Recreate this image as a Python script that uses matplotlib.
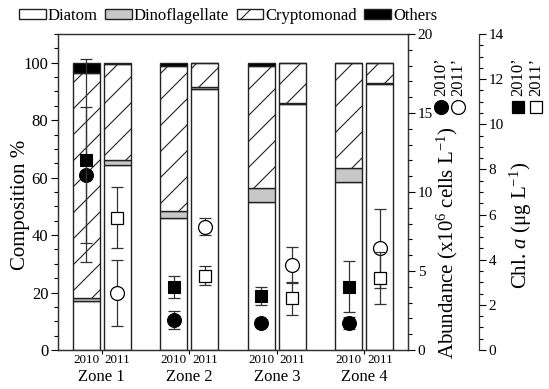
import matplotlib
matplotlib.use("Agg")
import matplotlib.pyplot as plt
import matplotlib.transforms as mtransforms
from matplotlib.patches import Rectangle
from matplotlib.lines import Line2D
from matplotlib.ticker import MultipleLocator
import numpy as np

DPI = 78
def P(v):
    return v * 100.0 / DPI

plt.rcParams['font.family'] = ['Liberation Serif', 'DejaVu Serif']
plt.rcParams['mathtext.fontset'] = 'custom'
plt.rcParams['mathtext.rm'] = 'Liberation Serif'
plt.rcParams['mathtext.it'] = 'Liberation Serif:italic'
plt.rcParams['hatch.linewidth'] = P(0.8)

# ---------------- data ----------------
zones = ["Zone 1", "Zone 2", "Zone 3", "Zone 4"]
years = ["2010", "2011"]
groups = ["Diatom", "Dinoflagellate", "Cryptomonad", "Others"]

diatom_2010 = [17.0, 46.0, 51.5, 58.5]
dino_2010 = [1.0, 2.5, 5.0, 5.0]
crypto_2010 = [78.5, 50.5, 42.5, 36.5]
others_2010 = [3.5, 1.0, 1.0, 0.0]

diatom_2011 = [64.5, 90.8, 85.5, 92.5]
dino_2011 = [1.5, 0.7, 0.6, 0.3]
crypto_2011 = [33.5, 8.5, 13.9, 7.2]
others_2011 = [0.5, 0.0, 0.0, 0.0]

abund_2010 = [11.1, 1.9, 1.7, 1.7]
abund_2010_err = [4.3, 0.6, 0.2, 0.4]
abund_2011 = [3.6, 7.8, 5.4, 6.45]
abund_2011_err = [2.1, 0.55, 1.15, 2.5]

chl_2010 = [8.4, 2.8, 2.4, 2.8]
chl_2010_err = [4.5, 0.5, 0.4, 1.13]
chl_2011 = [5.85, 3.3, 2.3, 3.2]
chl_2011_err = [1.35, 0.4, 0.73, 1.15]

# ---------------- styles ----------------
fills = ["white", "#c8c8c8", "white", "black"]
hatches = [None, None, "/", None]
edge = "#222222"

fig = plt.figure(figsize=(549 / DPI, 389 / DPI), dpi=DPI)
ax = fig.add_axes([58 / 549, 1 - 350 / 389, 350 / 549, 316 / 389])

x = np.arange(len(zones))
off = 0.178
bw = 0.31
x10 = x - off
x11 = x + off

for xpos, comps in ((x10, [diatom_2010, dino_2010, crypto_2010, others_2010]),
                    (x11, [diatom_2011, dino_2011, crypto_2011, others_2011])):
    bottom = np.zeros(len(zones))
    for vals, fc, h in zip(comps, fills, hatches):
        vals = np.array(vals)
        ax.bar(xpos, vals, bw, bottom=bottom, color=fc, edgecolor=edge,
               linewidth=P(1.0), hatch=h, zorder=2)
        bottom = bottom + vals

ax.set_xlim(-0.5, 3.5)
ax.set_ylim(0, 110)
ax.yaxis.set_major_locator(MultipleLocator(20))
ax.yaxis.set_minor_locator(MultipleLocator(5))
ax.set_yticks([0, 20, 40, 60, 80, 100])
ax.set_xticks(x)
ax.set_xticklabels([])
ax.tick_params(axis='x', direction='out', length=P(3), width=P(0.8))
ax.tick_params(axis='y', which='major', direction='out', length=P(5), width=P(0.8),
               labelsize=P(12), pad=P(2))
ax.tick_params(axis='y', which='minor', direction='out', length=P(3), width=P(0.8))
for s in ax.spines.values():
    s.set_linewidth(P(0.9))
    s.set_color('#333333')

trans = mtransforms.blended_transform_factory(ax.transData, ax.transAxes)
for i in range(len(zones)):
    ax.text(x10[i], -0.012, years[0], transform=trans, ha='center', va='top', fontsize=P(9.5))
    ax.text(x11[i], -0.012, years[1], transform=trans, ha='center', va='top', fontsize=P(9.5))
    ax.text(x[i], -0.06, zones[i], transform=trans, ha='center', va='top', fontsize=P(12))

# abundance axis
ax2 = ax.twinx()
ax2.set_ylim(0, 20)
ax2.yaxis.set_major_locator(MultipleLocator(5))
ax2.yaxis.set_minor_locator(MultipleLocator(1))
ax2.tick_params(axis='y', which='major', direction='out', length=P(5), width=P(0.8),
                labelsize=P(11), pad=P(2))
ax2.tick_params(axis='y', which='minor', direction='out', length=P(3), width=P(0.8))
for s in ax2.spines.values():
    s.set_linewidth(P(0.9))
    s.set_color('#333333')

ax2.errorbar(x10, abund_2010, yerr=abund_2010_err, fmt='o', mfc='black', mec='black',
             ms=P(10), ecolor='#333333', elinewidth=P(0.9), capsize=P(4.5),
             capthick=P(0.9), zorder=3)
ax2.errorbar(x11, abund_2011, yerr=abund_2011_err, fmt='o', mfc='white', mec='black',
             mew=P(0.9), ms=P(10), ecolor='#333333', elinewidth=P(0.9), capsize=P(4.5),
             capthick=P(0.9), zorder=3)

# chl a axis
ax3 = ax.twinx()
ax3.spines['right'].set_position(('axes', (479 - 58) / 350))
for k in ('left', 'top', 'bottom'):
    ax3.spines[k].set_visible(False)
ax3.spines['right'].set_linewidth(P(0.9))
ax3.spines['right'].set_color('#333333')
ax3.set_ylim(0, 14)
ax3.yaxis.set_major_locator(MultipleLocator(2))
ax3.yaxis.set_minor_locator(MultipleLocator(0.5))
ax3.tick_params(axis='y', which='major', direction='out', length=P(5), width=P(0.8),
                labelsize=P(11), pad=P(2))
ax3.tick_params(axis='y', which='minor', direction='out', length=P(3), width=P(0.8))

ax3.errorbar(x10, chl_2010, yerr=chl_2010_err, fmt='s', mfc='black', mec='black',
             ms=P(8), ecolor='#333333', elinewidth=P(0.9), capsize=P(4.5),
             capthick=P(0.9), zorder=3)
ax3.errorbar(x11, chl_2011, yerr=chl_2011_err, fmt='s', mfc='white', mec='black',
             mew=P(0.9), ms=P(8), ecolor='#333333', elinewidth=P(0.9), capsize=P(4.5),
             capthick=P(0.9), zorder=3)

# axis labels
fig.text(20 / 549, 1 - 205 / 389, "Composition %", rotation=90, ha='center', va='center',
         fontsize=P(15))
fig.text(447 / 549, 1 - 243 / 389, r"Abundance (x10$^{6}$ cells L$^{-1}$)", rotation=90,
         ha='center', va='center', fontsize=P(15))
fig.text(521 / 549, 1 - 225 / 389, r"Chl. $a$ ($\mathrm{\mu}$g L$^{-1}$)", rotation=90,
         ha='center', va='center', fontsize=P(15))

# right-side marker legends
def mark(px, py, marker, fc, ms):
    fig.add_artist(Line2D([px / 549], [1 - py / 389], marker=marker, mfc=fc, mec='black',
                          mew=P(0.9), ms=P(ms), linestyle='none',
                          transform=fig.transFigure))

for px, lab, mk, fc, ms in ((441, "2010\u2019", 'o', 'black', 10),
                            (458, "2011\u2019", 'o', 'white', 10),
                            (518, "2010\u2019", 's', 'black', 8),
                            (536, "2011\u2019", 's', 'white', 8)):
    mark(px, 107, mk, fc, ms)
    fig.text(px / 549, 1 - 96 / 389, lab, rotation=90, ha='center', va='bottom',
             fontsize=P(12))

# top legend
handles = [Rectangle((0, 0), 1, 1, facecolor=fc, edgecolor=edge, linewidth=P(1.0), hatch=h)
           for fc, h in zip(fills, hatches)]
fig.legend(handles, groups, loc='upper center', bbox_to_anchor=(228 / 549, 1 - 5 / 389),
           ncol=4, frameon=False, fontsize=P(12), handlelength=1.6, handleheight=0.55,
           handletextpad=0.12, columnspacing=0.45, borderaxespad=0, borderpad=0.2)

fig.savefig("out.png", dpi=DPI)
